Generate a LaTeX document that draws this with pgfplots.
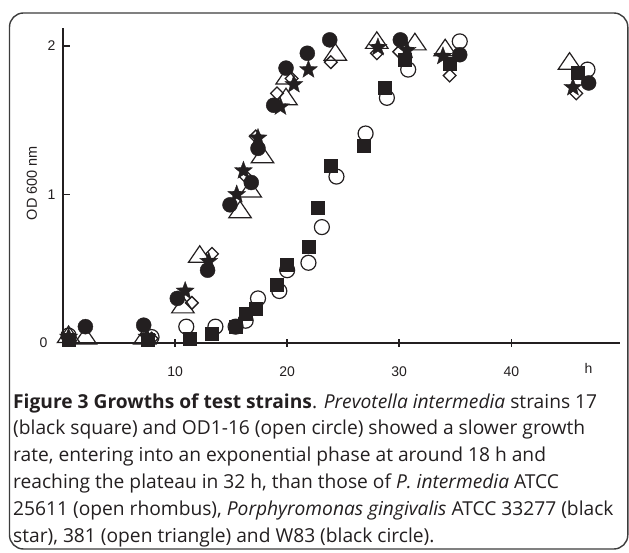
\documentclass[border=0pt]{standalone}
\usepackage{fontspec}
\setmainfont{Liberation Sans}
\newfontfamily\capfont{Open Sans}
\usepackage{pgfplots}
\pgfplotsset{compat=1.18}

\definecolor{ink}{RGB}{35,31,32}
\definecolor{framecol}{RGB}{60,60,60}

% filled five-pointed star
\pgfdeclareplotmark{fstar}{%
  \pgfpathmoveto{\pgfpointpolar{90}{\pgfplotmarksize}}%
  \pgfpathlineto{\pgfpointpolar{126}{0.42\pgfplotmarksize}}%
  \pgfpathlineto{\pgfpointpolar{162}{\pgfplotmarksize}}%
  \pgfpathlineto{\pgfpointpolar{198}{0.42\pgfplotmarksize}}%
  \pgfpathlineto{\pgfpointpolar{234}{\pgfplotmarksize}}%
  \pgfpathlineto{\pgfpointpolar{270}{0.42\pgfplotmarksize}}%
  \pgfpathlineto{\pgfpointpolar{306}{\pgfplotmarksize}}%
  \pgfpathlineto{\pgfpointpolar{342}{0.42\pgfplotmarksize}}%
  \pgfpathlineto{\pgfpointpolar{18}{\pgfplotmarksize}}%
  \pgfpathlineto{\pgfpointpolar{54}{0.42\pgfplotmarksize}}%
  \pgfpathclose
  \pgfusepathqfillstroke
}

\begin{document}
\begin{tikzpicture}[x=1pt,y=1pt]
\useasboundingbox (0,0) rectangle (629,552);
\draw[framecol, line width=1.4, rounded corners=14] (9.5,3) rectangle (627.8,539);

\begin{axis}[
  at={(63pt,209pt)}, anchor=south west,
  scale only axis, width=557pt, height=315pt,
  xmin=0, xmax=49.7, ymin=0, ymax=2.12,
  axis x line=bottom, axis y line=left,
  axis line style={-, line width=1.8pt, ink},
  xtick={10,20,30,40}, ytick={1,2},
  extra y ticks={0},
  extra y tick style={major tick length=0pt, yticklabel style={xshift=-8pt}},
  major tick length=7pt,
  xtick align=center, ytick align=inside,
  tick style={line width=1.5pt, ink},
  /pgf/number format/assume math mode=true,
  tick label style={font=\fontsize{14}{14}\selectfont, color=ink},
  xticklabel style={anchor=center, yshift=-25pt},
  yticklabel style={xshift=-4pt},
  ylabel={OD 600 nm},
  ylabel style={at={(axis description cs:-0.0557,0.508)}, anchor=center,
    font=\fontsize{14.5}{14.5}\selectfont, color=ink},
  clip=false,
]
% open triangle (381)
\addplot[only marks, mark=triangle, mark size=13pt, ink, line width=1.2pt,
  mark options={yscale=0.85}]
  coordinates {(0.5,0.04) (2,0.03) (7.3,0.03) (10.7,0.24) (12.2,0.58) (15.8,0.88)
    (16.7,1.02) (17.8,1.25) (19.9,1.64) (20,1.78) (24.3,1.94) (28,2.02)
    (31.4,2.01) (34.1,1.97) (45.2,1.88)};
% open circle (OD1-16)
\addplot[only marks, mark=o, mark size=7.5pt, ink, line width=1.2pt]
  coordinates {(0.5,0.05) (7.9,0.04) (11,0.11) (13.6,0.11) (15.4,0.11) (16.3,0.15)
    (17.4,0.3) (19.3,0.35) (20,0.49) (21.9,0.54) (23.1,0.78) (24.4,1.12)
    (27,1.41) (28.9,1.65) (30.8,1.84) (35.4,2.03) (46.8,1.84)};
% open rhombus (ATCC 25611)
\addplot[only marks, mark=square, mark size=4.5pt, ink, line width=1.3pt,
  mark options={rotate=45}]
  coordinates {(0.5,0.03) (7.9,0.03) (11.5,0.27) (13.3,0.6) (16.3,1.12) (17.2,1.39)
    (19.1,1.68) (20.4,1.78) (23.9,1.89) (28,1.95) (30,1.96) (34.5,1.8)
    (45.8,1.68)};
% black circle (W83)
\addplot[only marks, mark=*, mark size=7.5pt, ink]
  coordinates {(2,0.11) (7.2,0.12) (10.2,0.3) (12.9,0.49) (14.9,0.93) (16.8,1.08)
    (17.4,1.31) (18.8,1.6) (19.9,1.85) (21.8,1.95) (23.8,2.04) (30.1,2.04)
    (35.4,1.94) (46.9,1.75)};
% black star (ATCC 33277)
\addplot[only marks, mark=fstar, mark size=9.5pt, ink, line width=0.3pt]
  coordinates {(0.5,0.04) (7.5,0.04) (10.9,0.35) (13,0.55) (15.5,1.0) (16.1,1.16)
    (17.4,1.38) (19.4,1.59) (20.6,1.74) (21.9,1.84) (28.1,1.99) (30.7,1.97)
    (33.9,1.93) (45.5,1.72)};
% black square (17)
\addplot[only marks, mark=square*, mark size=6.5pt, ink]
  coordinates {(0.5,0.02) (7.6,0.02) (11.3,0.03) (13.3,0.06) (15.4,0.11) (16.3,0.2)
    (17.2,0.23) (19.1,0.39) (20,0.53) (21.9,0.65) (22.7,0.91) (23.9,1.19)
    (26.8,1.33) (28.7,1.72) (30.5,1.91) (34.5,1.88) (45.9,1.82)};
\node[font=\fontsize{14}{14}\selectfont, color=ink, anchor=center]
  at (axis cs:46.9,0) [yshift=-25pt] {h};
\end{axis}

\begin{scope}[every node/.style={anchor=base west, inner sep=0pt, color=ink,
    font=\capfont\fontsize{19.2}{19.2}\selectfont}]
\node at (13,144) {\textbf{Figure 3 Growths of test strains}. \textit{Prevotella intermedia} strains 17};
\node at (13,117.2) {(black square) and OD1-16 (open circle) showed a slower growth};
\node at (13,90.4) {rate, entering into an exponential phase at around 18 h and};
\node at (13,63.6) {reaching the plateau in 32 h, than those of \textit{P. intermedia} ATCC};
\node at (13,36.8) {25611 (open rhombus), \textit{Porphyromonas gingivalis} ATCC 33277 (black};
\node at (13,10) {star), 381 (open triangle) and W83 (black circle).};
\end{scope}
\end{tikzpicture}
\end{document}
